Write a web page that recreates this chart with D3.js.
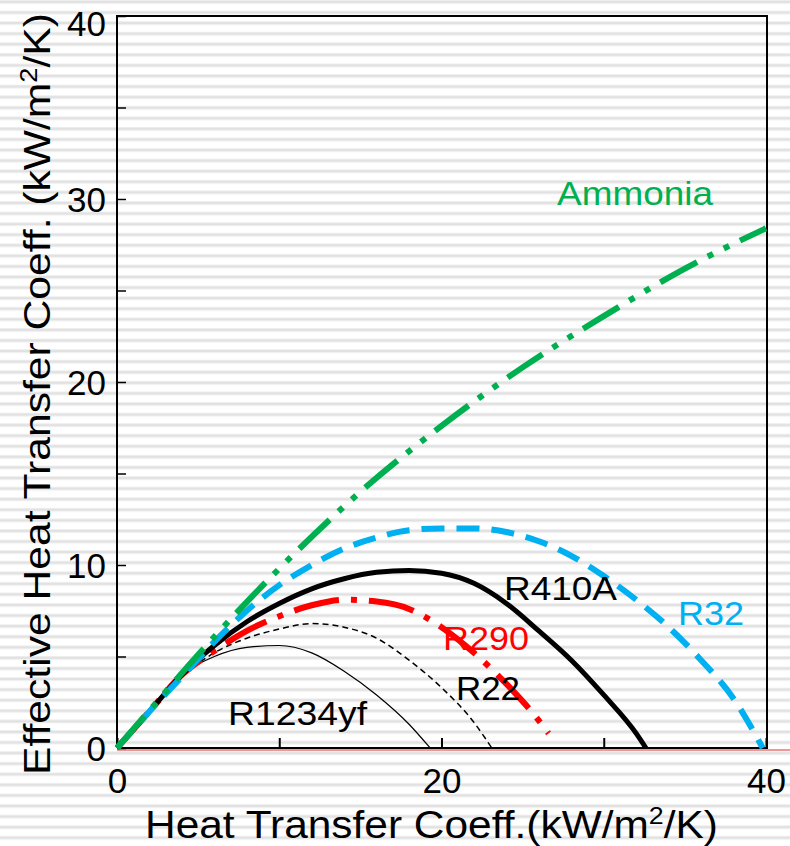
<!DOCTYPE html>
<html>
<head>
<meta charset="utf-8">
<script src="https://cdn.jsdelivr.net/npm/d3@7/dist/d3.min.js"></script>
<style>
  html, body { margin: 0; padding: 0; background: #fff; }
  svg { display: block; font-family: "Liberation Sans", Arial, sans-serif; }
</style>
</head>
<body>
<svg id="chart" width="790" height="846"></svg>
<script>
// Heat transfer coefficient (x) vs effective heat transfer coefficient (y), kW/m2/K
const xTicks = [0, 10, 20, 30, 40];
const xTickLabels = ["0", "", "20", "", "40"];
const yTicks = [0, 5, 10, 15, 20, 25, 30, 35, 40];
const yTickLabels = ["0", "", "10", "", "20", "", "30", "", "40"];

const ammonia = [[0,0],[2,2.05],[5,5.1],[10,9.8],[15,14.0],[20,17.6],[25,20.8],[30,23.6],[35,26.2],[40,28.4]];
const r32 = [[0,0],[2,2],[4,3.9],[6,5.8],[8,7.5],[10,8.9],[12,10.0],[14,10.9],[16,11.5],[18,11.9],[20,12.0],[22,12.0],[24,11.8],[26,11.3],[28,10.5],[30,9.4],[32,8.1],[34,6.6],[36,4.8],[38,2.7],[39.8,0]];
const r410a = [[0,0],[2,2],[4,4.0],[6,5.6],[8,6.9],[10,7.9],[12,8.7],[14,9.25],[16,9.6],[18,9.7],[20,9.55],[22,9.0],[24,7.9],[26,6.4],[28,4.8],[30,2.9],[32,0.8],[32.6,0]];
const r290 = [[0,0],[2,2],[4,4.0],[6,5.3],[8,6.4],[10,7.2],[12,7.8],[14,8.1],[16,8.0],[18,7.6],[20,6.6],[22,5.2],[24,3.5],[26,1.5],[26.6,0.8]];
const r22 = [[0,0],[2,2],[4,3.9],[6,5.2],[8,6.0],[10,6.5],[12,6.8],[14,6.6],[16,6.0],[18,4.8],[20,3.3],[22,1.4],[23.1,0]];
const r1234yf = [[0,0],[2,2],[4,4.0],[6,5.0],[8,5.5],[10,5.6],[12,5.2],[14,4.2],[16,2.9],[18,1.3],[19.3,0]];

const seriesNames = ["Ammonia", "R32", "R410A", "R290", "R22", "R1234yf"];
const seriesData = [ammonia, r32, r410a, r290, r22, r1234yf];

const styles = {
  "Ammonia": { color: "#00b050", width: 6, dash: "42,12,6,12,6,12" },
  "R32":     { color: "#00b0f0", width: 6, dash: "23,12" },
  "R410A":   { color: "#000000", width: 5, dash: null },
  "R290":    { color: "#ff0000", width: 6, dash: "46,12,6,12" },
  "R22":     { color: "#000000", width: 1.5, dash: "6,4" },
  "R1234yf": { color: "#000000", width: 1.2, dash: null }
};

// series label placement: left x, baseline y, rendered width
const labelPos = {
  "Ammonia": [557, 205, 156],
  "R32":     [678, 625, 66],
  "R410A":   [504, 600, 113],
  "R290":    [443, 650, 86],
  "R22":     [456, 700, 64],
  "R1234yf": [228, 725, 139]
};

const W = 790, H = 846;
const L = 117, R = 766, T = 16, B = 748;

const svg = d3.select("#chart");

// striped backdrop
const defs = svg.append("defs");
const pat = defs.append("pattern")
  .attr("id", "stripes").attr("patternUnits", "userSpaceOnUse")
  .attr("width", 10).attr("height", 10.58);
pat.append("rect").attr("width", 10).attr("height", 10.58).attr("fill", "#ffffff");
pat.append("rect").attr("y", 0).attr("width", 10).attr("height", 1).attr("fill", "#eeeeee");
pat.append("rect").attr("y", 1).attr("width", 10).attr("height", 2).attr("fill", "#e1e1e1");
pat.append("rect").attr("y", 3).attr("width", 10).attr("height", 1).attr("fill", "#efefef");
svg.append("rect").attr("width", W).attr("height", H).attr("fill", "url(#stripes)");

const x = d3.scaleLinear().domain([0, 40]).range([L, R]);
const y = d3.scaleLinear().domain([0, 40]).range([B, T]);

// frame
svg.append("line").attr("x1", L).attr("x2", W).attr("y1", B + 2).attr("y2", B + 2)
  .attr("stroke", "#e03030").attr("stroke-width", 1.2);
svg.append("path")
  .attr("d", `M${L},${B}V${T}H${R + 1}V${B}H${L}`)
  .attr("fill", "none").attr("stroke", "#000").attr("stroke-width", 2);

// axes with inward ticks
const xAxis = d3.axisBottom(x).tickValues(xTicks).tickSize(-10)
  .tickFormat((d, i) => xTickLabels[i]).tickPadding(20);
const gx = svg.append("g").attr("transform", `translate(0,${B})`).call(xAxis);
gx.select(".domain").remove();
gx.selectAll(".tick line").attr("stroke", "#000").attr("stroke-width", 2);
gx.selectAll(".tick text").attr("font-size", 35).attr("fill", "#000")
  .attr("font-family", "Liberation Sans, Arial, sans-serif");

const yAxis = d3.axisLeft(y).tickValues(yTicks).tickSize(-9)
  .tickFormat((d, i) => yTickLabels[i]).tickPadding(11);
const gy = svg.append("g").attr("transform", `translate(${L},0)`).call(yAxis);
gy.select(".domain").remove();
gy.selectAll(".tick line").attr("stroke", "#000").attr("stroke-width", 1.5);
gy.selectAll(".tick text").attr("font-size", 35).attr("fill", "#000")
  .attr("font-family", "Liberation Sans, Arial, sans-serif")
  .attr("dy", (d) => d === 40 ? "0.55em" : "0.36em");

// curves
const line = d3.line().x(d => x(d[0])).y(d => y(d[1])).curve(d3.curveMonotoneX);
const order = ["R1234yf", "R22", "R290", "R410A", "R32", "Ammonia"];
order.forEach(name => {
  const data = seriesData[seriesNames.indexOf(name)];
  const s = styles[name];
  svg.append("path").datum(data)
    .attr("d", line)
    .attr("fill", "none")
    .attr("stroke", s.color)
    .attr("stroke-width", s.width)
    .attr("stroke-dasharray", s.dash)
    .attr("stroke-linejoin", "round");
});

// series labels
seriesNames.forEach(name => {
  const p = labelPos[name];
  svg.append("text")
    .attr("x", p[0]).attr("y", p[1])
    .attr("font-size", 34)
    .attr("fill", styles[name].color)
    .attr("textLength", p[2]).attr("lengthAdjust", "spacingAndGlyphs")
    .text(name);
});

// axis titles
const xt = svg.append("text").attr("x", 145).attr("y", 838)
  .attr("font-size", 38).attr("fill", "#000")
  .attr("textLength", 573).attr("lengthAdjust", "spacingAndGlyphs");
xt.append("tspan").text("Heat Transfer Coeff.(kW/m");
xt.append("tspan").attr("font-size", 24).attr("dy", -14).text("2");
xt.append("tspan").attr("dy", 14).text("/K)");

const yt = svg.append("text")
  .attr("transform", "translate(50,775) rotate(-90)")
  .attr("font-size", 36).attr("fill", "#000")
  .attr("textLength", 762).attr("lengthAdjust", "spacingAndGlyphs");
yt.append("tspan").text("Effective Heat Transfer Coeff. (kW/m");
yt.append("tspan").attr("font-size", 23).attr("dy", -13).text("2");
yt.append("tspan").attr("dy", 13).text("/K)");
</script>
</body>
</html>
